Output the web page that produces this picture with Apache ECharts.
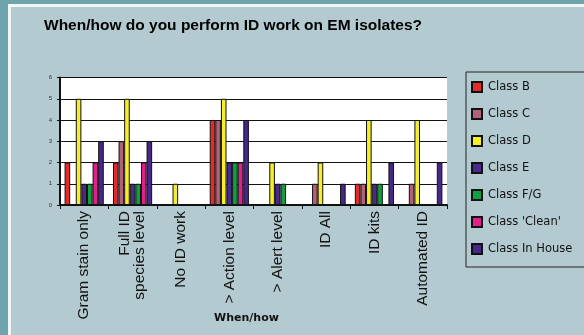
<!DOCTYPE html>
<html><head><meta charset="utf-8">
<script src="https://cdn.jsdelivr.net/npm/echarts@6/dist/echarts.min.js"></script>
<style>html,body{margin:0;padding:0;background:#6ea5ad}#c{width:584px;height:335px}</style>
</head><body><div id="c"></div>
<script>
const categories = ['Gram stain only', 'Full ID\nspecies level', 'No ID work', '> Action level', '> Alert level', 'ID All', 'ID kits', 'Automated ID'];
const seriesNames = ['Class B', 'Class C', 'Class D', 'Class E', 'Class F/G', "Class 'Clean'", 'Class In House'];
const classB = [2, 2, 0, 4, 0, 0, 1, 0];
const classC = [0, 3, 0, 4, 0, 1, 1, 1];
const classD = [5, 5, 1, 5, 2, 2, 4, 4];
const classE = [1, 1, 0, 2, 1, 0, 1, 0];
const classFG = [1, 1, 0, 2, 1, 0, 1, 0];
const classClean = [2, 2, 0, 2, 0, 0, 0, 0];
const classInHouse = [3, 3, 0, 4, 0, 1, 2, 2];
const yTicks = [0, 1, 2, 3, 4, 5, 6];

const values = [classB, classC, classD, classE, classFG, classClean, classInHouse];
const colors = ['#e32b2b', '#b3607a', '#f5ee2a', '#4a2a8c', '#10a040', '#e3208a', '#45288a'];

const chart = echarts.init(document.getElementById('c'));
chart.setOption({
  animation: false,
  backgroundColor: 'transparent',
  graphic: [
    {type: 'rect', z: -10, shape: {x: 0, y: 0, width: 584, height: 335}, style: {fill: '#6ea5ad'}},
    {type: 'rect', z: -9, shape: {x: 8, y: 4, width: 576, height: 331}, style: {fill: '#f2f6f6'}},
    {type: 'rect', z: -8, shape: {x: 11, y: 7, width: 573, height: 328}, style: {fill: '#b3cbd0'}},
    {type: 'rect', z: 1, shape: {x: 466, y: 72, width: 130, height: 195}, style: {fill: 'none', stroke: '#222', lineWidth: 1}}
  ],
  title: {
    text: 'When/how do you perform ID work on EM isolates?',
    left: 39, top: 13,
    textStyle: {fontFamily: 'Liberation Sans', fontWeight: 'bold', fontSize: 15.5, color: '#000'}
  },
  legend: {
    orient: 'vertical', left: 471, top: 81,
    itemWidth: 10, itemHeight: 10, itemGap: 15, padding: 0,
    icon: 'rect',
    textStyle: {fontFamily: 'DejaVu Sans', fontSize: 11.5, color: '#111', padding: [0, 0, 0, 1]},
    data: seriesNames
  },
  grid: {left: 60, right: 137, top: 77.5, bottom: 130, show: true, backgroundColor: '#ffffff', borderWidth: 0},
  xAxis: {
    type: 'category', data: categories,
    name: 'When/how', nameLocation: 'middle', nameGap: 108, nameMoveOverlap: false,
    nameTextStyle: {fontFamily: 'DejaVu Sans', fontWeight: 'bold', fontSize: 11, color: '#111', padding: [0, 14, 0, 0]},
    axisLine: {lineStyle: {color: '#111', width: 2}},
    axisTick: {show: true, length: 4, lineStyle: {color: '#111', width: 1}},
    axisLabel: {rotate: 90, fontFamily: 'Liberation Sans', fontSize: 15.5, color: '#111', margin: 6, lineHeight: 15, interval: 0}
  },
  yAxis: {
    type: 'value', min: 0, max: 6, interval: 1,
    axisLine: {show: true, lineStyle: {color: '#111', width: 2}},
    axisTick: {show: true, length: 3, lineStyle: {color: '#111'}},
    axisLabel: {fontFamily: 'Liberation Sans', fontSize: 6, color: '#333', margin: 8,
      formatter: v => yTicks.includes(v) ? String(v) : ''},
    splitLine: {lineStyle: {color: '#111', width: 1}}
  },
  series: values.map((arr, i) => ({
    name: seriesNames[i], type: 'bar', data: arr,
    barGap: '0%', barCategoryGap: '19%',
    itemStyle: {color: colors[i], borderColor: '#111', borderWidth: 1}
  }))
});
</script></body></html>
